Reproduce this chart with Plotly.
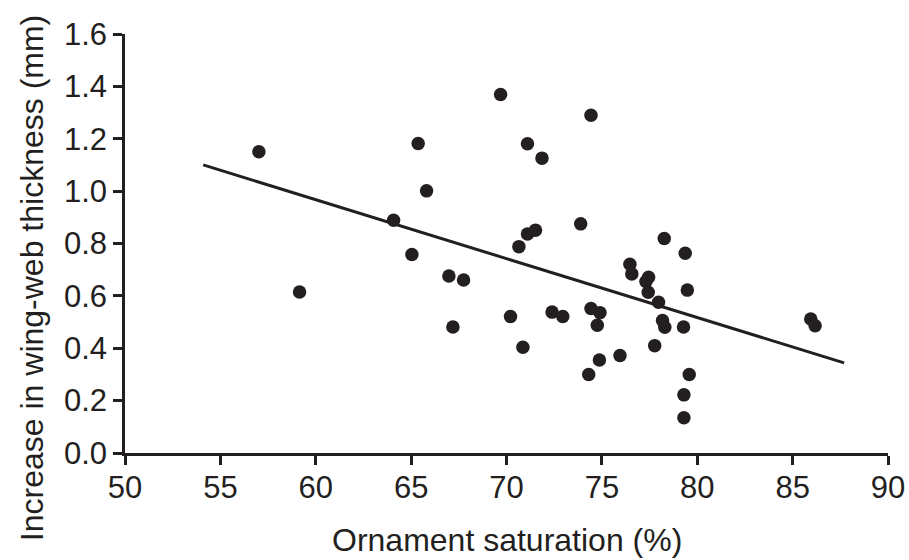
import plotly.graph_objects as go

# Ornament saturation (%) and increase in wing-web thickness (mm) per individual
saturation = [
    57.02, 59.15, 64.08, 65.37, 65.81, 65.04, 66.98, 67.75, 67.19, 69.69,
    70.21, 70.65, 70.86, 71.10, 71.10, 71.52, 71.86, 72.39, 72.95, 73.89,
    74.43, 74.43, 74.90, 74.76, 74.87, 75.95, 74.31, 76.47, 76.57, 77.45,
    77.31, 77.43, 77.97, 78.27, 79.37, 79.48, 78.18, 78.30, 79.28, 77.77,
    79.58, 79.30, 79.30, 85.95, 86.18,
]
thickness = [
    1.150, 0.615, 0.889, 1.182, 1.001, 0.758, 0.676, 0.661, 0.481, 1.369,
    0.521, 0.788, 0.404, 1.181, 0.836, 0.851, 1.126, 0.538, 0.521, 0.875,
    1.290, 0.552, 0.536, 0.488, 0.355, 0.372, 0.300, 0.721, 0.684, 0.671,
    0.655, 0.614, 0.576, 0.819, 0.763, 0.622, 0.506, 0.480, 0.481, 0.410,
    0.300, 0.222, 0.135, 0.512, 0.486,
]

# Least-squares regression line end points
fit_x = [54.1, 87.7]
fit_y = [1.100, 0.344]

x_ticks = [50, 55, 60, 65, 70, 75, 80, 85, 90]
y_ticks = [0.0, 0.2, 0.4, 0.6, 0.8, 1.0, 1.2, 1.4, 1.6]

x_title = "Ornament saturation (%)"
y_title = "Increase in wing-web thickness (mm)"

ink = "#231f20"
font = "Liberation Sans, Arial, sans-serif"

fig = go.Figure()
fig.add_trace(go.Scatter(
    x=fit_x, y=fit_y, mode="lines",
    line=dict(color=ink, width=3),
    hoverinfo="skip", showlegend=False,
))
fig.add_trace(go.Scatter(
    x=saturation, y=thickness, mode="markers",
    marker=dict(color=ink, size=13.5, line=dict(width=0)),
    showlegend=False,
))

axis_common = dict(
    showgrid=False, zeroline=False, automargin=False,
    showline=True, linecolor=ink, linewidth=2.5,
    ticks="outside", ticklen=9, tickwidth=2.5, tickcolor=ink,
    tickfont=dict(family=font, size=31, color=ink),
)

fig.update_layout(
    template="none",
    width=909, height=560,
    margin=dict(l=125, r=21, t=34, b=107),
    paper_bgcolor="white", plot_bgcolor="white",
    xaxis=dict(
        range=[50, 90], tickvals=x_ticks,
        ticktext=[str(v) for v in x_ticks],
        ticklabelstandoff=-4,
        **axis_common,
    ),
    yaxis=dict(
        range=[0, 1.6], tickvals=y_ticks,
        ticktext=[f"{v:.1f}" for v in y_ticks],
        **axis_common,
    ),
    annotations=[
        dict(text=x_title, xref="paper", yref="paper", x=0.5, y=-0.2076,
             xanchor="center", yanchor="middle", showarrow=False,
             font=dict(family=font, size=32, color=ink)),
        dict(text=y_title, xref="paper", yref="paper", x=-0.1217, y=0.4177,
             xanchor="center", yanchor="middle", textangle=-90, showarrow=False,
             font=dict(family=font, size=32, color=ink)),
    ],
)

fig.write_html("out.html")
